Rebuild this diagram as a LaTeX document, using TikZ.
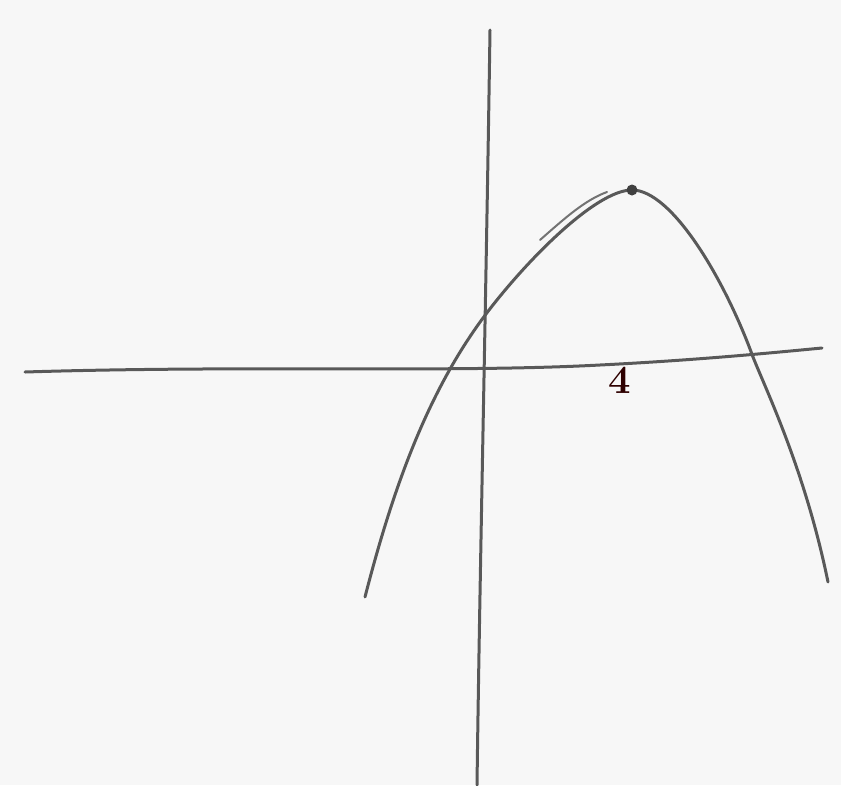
\documentclass[tikz,border=0pt]{standalone}
\begin{document}
\begin{tikzpicture}[x=1pt,y=-1pt,
  pencil/.style={draw=black!65,line width=3pt,line cap=round,line join=round},
  light/.style={draw=black!55,line width=2pt,line cap=round}]
\fill[black!3] (0,0) rectangle (841,785);
\useasboundingbox (0,0) rectangle (841,785);
% axes
\draw[pencil] (490,30) .. controls (486,300) and (480,560) .. (477,785);
\draw[pencil] (25,372) .. controls (250,365) and (450,373) .. (600,365) .. controls (700,360) and (780,352) .. (822,348);
% parabola
\draw[pencil] (365,597) .. controls (395,480) and (430,390) .. (483,318)
  .. controls (523,264) and (595,190) .. (632,190)
  .. controls (672,190) and (725,280) .. (753,357)
  .. controls (766,390) and (805,470) .. (828,582);
% double stroke
\draw[light] (540,240) .. controls (565,218) and (585,200) .. (607,192);
% vertex dot
\fill[black!75] (632,190) circle (5.5);
% label
\node[text=black!70!red!60!black,font=\bfseries\fontsize{40}{40}\selectfont,inner sep=0] (four) at (620,380) {4};
\end{tikzpicture}
\end{document}
